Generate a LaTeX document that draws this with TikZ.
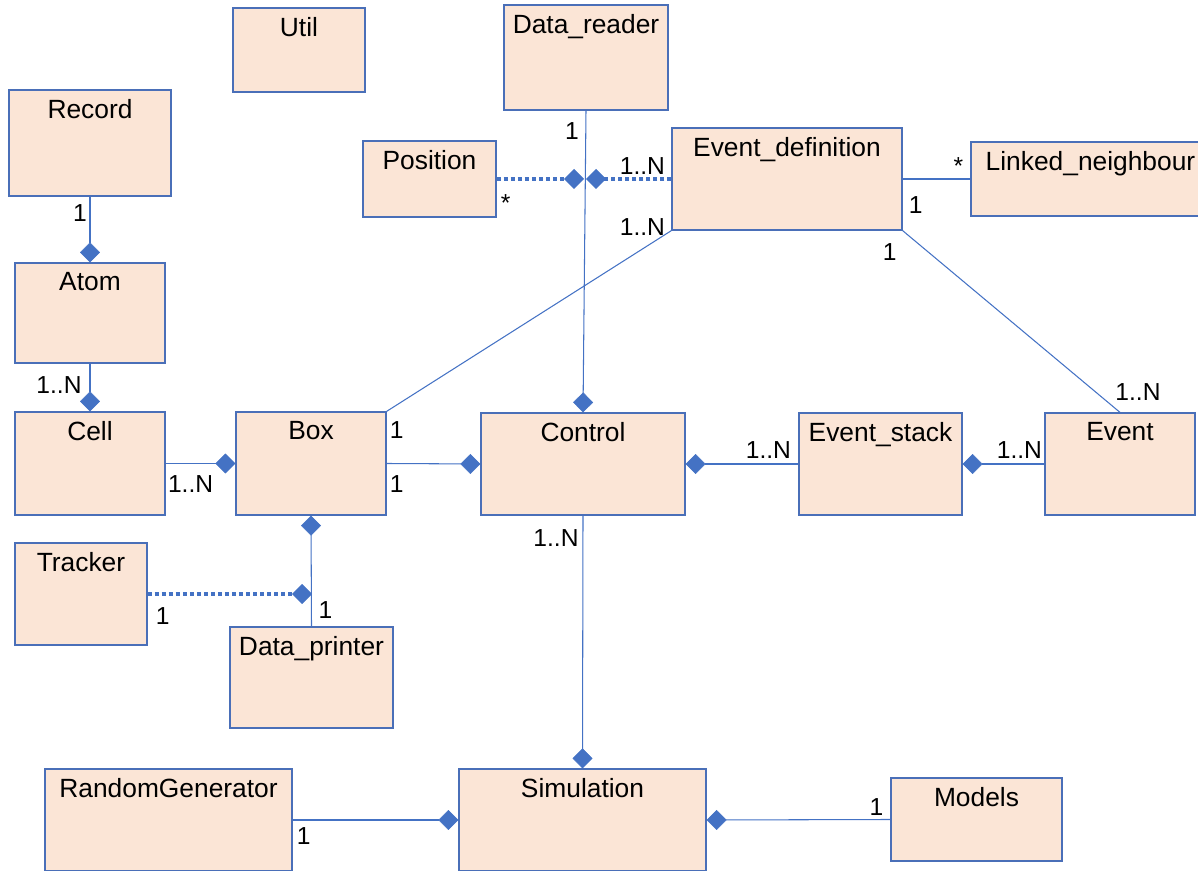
\documentclass[tikz,border=0pt]{standalone}
\usepackage{xcolor}
\usepackage{fontspec}
\setmainfont{Liberation Sans}
\usepackage{tikz}
\usetikzlibrary{fit,arrows.meta}
\definecolor{clsfill}{HTML}{FBE5D6}
\definecolor{clsline}{HTML}{4A6FB8}
\definecolor{linkblue}{HTML}{4472C4}

\begin{document}
\begin{tikzpicture}[x=0.02cm,y=-0.02cm,
        cls/.style={rectangle,draw=clsline,fill=clsfill,line width=0.7pt,inner sep=0pt,
                    label={[anchor=north,inner sep=0pt,yshift=-0.2cm,
                            font=\fontsize{15}{18}\selectfont]north:#1}},
        lbl/.style={inner sep=0pt,font=\fontsize{14}{17}\selectfont},
        link/.style={draw=linkblue,line width=0.6pt},
        comp/.style={link,-{Diamond[length=0.4cm,width=0.4cm,line width=0.3pt]}},
        dotlink/.style={draw=linkblue,line width=2.2pt,dash pattern=on 2.3pt off 1.7pt,
                        -{Diamond[length=0.4cm,width=0.4cm,line width=0.3pt]}}]
      \useasboundingbox (0,0) rectangle (1198,871);
      %% ── Classes, top rows ────────────────────────────────
      \node[cls=Util,fit={(233,8) (365,92)}] (util) {};
      \node[cls=Data\_reader,fit={(504,5) (668,110)}] (dr) {};
      \node[cls=Record,fit={(9,90) (171,196)}] (rec) {};
      \node[cls=Position,fit={(363,141) (496,217)}] (pos) {};
      \node[cls=Event\_definition,fit={(672,128) (902,230)}] (ed) {};
      \node[cls=Linked\_neighbour,fit={(971,142) (1210,216)}] (ln) {};
      \node[cls=Atom,fit={(15,263) (165,363)}] (atom) {};
      %% ── Classes, middle row ──────────────────────────────
      \node[cls=Cell,fit={(15,412) (165,515)}] (cell) {};
      \node[cls=Box,fit={(236,412) (386,515)}] (box) {};
      \node[cls=Control,fit={(481,413) (685,515)}] (ctl) {};
      \node[cls=Event\_stack,fit={(799,413) (962,515)}] (es) {};
      \node[cls=Event,fit={(1045,413) (1195,515)}] (ev) {};
      %% ── Classes, bottom rows ─────────────────────────────
      \node[cls=Tracker,fit={(15,543) (147,645)}] (trk) {};
      \node[cls=Data\_printer,fit={(230,627) (393,728)}] (dp) {};
      \node[cls=RandomGenerator,fit={(45,769) (292,871)}] (rg) {};
      \node[cls=Simulation,fit={(459,769) (706,871)}] (sim) {};
      \node[cls=Models,fit={(891,778) (1062,861)}] (mod) {};
      %% ── Free ends of the dotted links ────────────────────
      \coordinate (posj) at (584,179);
      \coordinate (edj) at (586,179);
      \coordinate (trkj) at (312,594);
      %% ── Compositions ─────────────────────────────────────
      \draw[comp] (rec.south) -- (atom.north) node[lbl,pos=0,shift={(-10,16)}]{1};
      \draw[comp] (atom.south) -- (cell.north) node[lbl,pos=0,shift={(-31,21)}]{1..N};
      \draw[comp] (cell.east) -- (box.west) node[lbl,pos=0,shift={(25,21)}]{1..N};
      \draw[comp] (box.east) -- (ctl.west) node[lbl,pos=0,shift={(10,21)}]{1};
      \draw[comp] (es.west) -- (ctl.east) node[lbl,pos=0,shift={(-30,-14)}]{1..N};
      \draw[comp] (ev.west) -- (es.east) node[lbl,pos=0,shift={(-25,-14)}]{1..N};
      \draw[comp] (dr.south) -- (ctl.north) node[lbl,pos=0,shift={(-14,20)}]{1};
      \draw[comp] (dp.north) -- (box.south) node[lbl,pos=0,shift={(14,-16)}]{1};
      \draw[comp] (ctl.south) -- (sim.north) node[lbl,pos=0,shift={(-27,22)}]{1..N};
      \draw[comp] (rg.east) -- (sim.west) node[lbl,pos=0,shift={(11,16)}]{1};
      \draw[comp] (mod.west) -- (sim.east) node[lbl,pos=0,shift={(-14,-12)}]{1};
      %% ── Plain associations ───────────────────────────────
      \draw[link] (ed.south west) -- (box.north east)
            node[lbl,pos=0,shift={(-29,-4)}]{1..N}
            node[lbl,pos=1,shift={(10,19)}]{1};
      \draw[link] (ed.south east) -- (ev.north)
            node[lbl,pos=0,shift={(-13,21)}]{1}
            node[lbl,pos=1,shift={(18,-20)}]{1..N};
      \draw[link] (ed.east) -- (ln.west)
            node[lbl,pos=0,shift={(13,26)}]{1}
            node[lbl,pos=1,shift={(-12,-13)}]{*};
      %% ── Dotted links ─────────────────────────────────────
      \draw[dotlink] (pos.east) -- (posj) node[lbl,pos=0,shift={(9,24)}]{*};
      \draw[dotlink] (ed.west) -- (edj) node[lbl,pos=0,shift={(-29,-13)}]{1..N};
      \draw[dotlink] (trk.east) -- (trkj) node[lbl,pos=0,shift={(15,22)}]{1};
    \end{tikzpicture}
\end{document}
